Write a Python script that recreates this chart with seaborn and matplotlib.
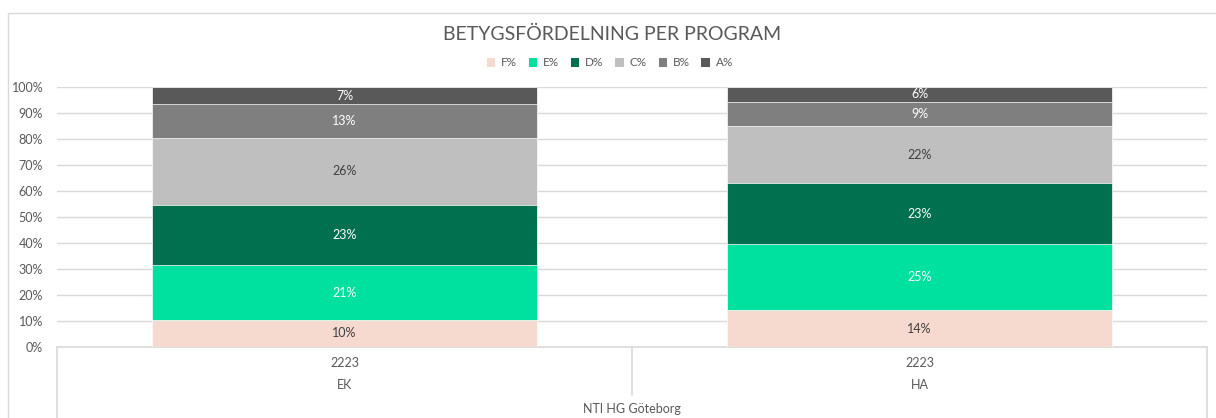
import numpy as np
import pandas as pd
import matplotlib
matplotlib.use("Agg")
import matplotlib.pyplot as plt
from matplotlib.patches import Patch
import seaborn as sns

# Chart data (percent of grades per programme)
programs = ["EK", "HA"]
year = "2223"
school = "NTI HG Göteborg"
grades = ["F%", "E%", "D%", "C%", "B%", "A%"]
F = [10.4, 14.2]
E = [21.1, 25.4]
D = [23.1, 23.3]
C = [25.8, 22.0]
B = [13.0, 9.4]
A = [6.6, 5.7]

colors = ["#F6D9CF", "#00E09E", "#00704F", "#BFBFBF", "#7F7F7F", "#595959"]
label_colors = ["#404040", "white", "white", "#404040", "white", "white"]

df = pd.DataFrame({"program": programs, "F%": F, "E%": E, "D%": D,
                   "C%": C, "B%": B, "A%": A})
cum = df[grades].cumsum(axis=1)

sns.set_style("white")
plt.rcParams["font.family"] = ["Lato", "DejaVu Sans"]
text_col = "#595959"
grid_col = "#D9D9D9"

W, H = 1216, 418
fig = plt.figure(figsize=(W / 100, H / 100), dpi=100)
ax = fig.add_axes([57 / W, (H - 347) / H, (1207 - 57) / W, (347 - 87) / H])

# stacked bars: draw cumulative totals from top layer down
for g, c in reversed(list(zip(grades, colors))):
    sns.barplot(x=df["program"], y=cum[g], color=c, width=0.668, saturation=1,
                edgecolor="white", linewidth=0.5, ax=ax, zorder=3)

# segment labels
for i in range(len(programs)):
    base = 0
    for g, lc in zip(grades, label_colors):
        v = df[g].iloc[i]
        ax.text(i, base + v / 2, f"{round(v):d}%", ha="center", va="center",
                color=lc, fontsize=9, zorder=4)
        base += v

ax.set_ylim(0, 100)
ax.set_xlim(-0.5, 1.5)
ax.set_yticks(np.arange(0, 101, 10))
ax.set_yticklabels([f"{t}%" for t in range(0, 101, 10)])
ax.tick_params(axis="y", length=0, pad=10, labelsize=9, labelcolor=text_col)
ax.set_xticks([])
ax.set_xlabel("")
ax.set_ylabel("")
ax.grid(axis="y", color=grid_col, linewidth=1, zorder=0)
ax.set_axisbelow(True)
for s in ["top", "right", "left"]:
    ax.spines[s].set_visible(False)
ax.spines["bottom"].set_color(grid_col)
ax.spines["bottom"].set_linewidth(1.2)

# multi-level category axis
tr = ax.get_xaxis_transform()
for i, p in enumerate(programs):
    ax.text(i, -0.062, year, transform=tr, ha="center", va="center",
            fontsize=9, color=text_col)
    ax.text(i, -0.146, p, transform=tr, ha="center", va="center",
            fontsize=9, color=text_col)
ax.text(0.5, -0.238, school, transform=tr, ha="center", va="center",
        fontsize=9, color=text_col)
ax.plot([-0.5, -0.5], [0, -0.3], transform=tr, color=grid_col, lw=1.2, clip_on=False)
ax.plot([1.5, 1.5], [0, -0.3], transform=tr, color=grid_col, lw=1.2, clip_on=False)
ax.plot([0.5, 0.5], [0, -0.185], transform=tr, color=grid_col, lw=1.2, clip_on=False)

# title and legend
fig.text(612 / W, 1 - 34 / H, "BETYGSFÖRDELNING PER PROGRAM", ha="center",
         va="center", fontsize=14, color=text_col)
handles = [Patch(facecolor=c, edgecolor="none", label=g) for g, c in zip(grades, colors)]
fig.legend(handles=handles, loc="center", bbox_to_anchor=(610 / W, 1 - 63 / H),
           ncol=6, frameon=False, fontsize=8.5, labelcolor=text_col,
           handlelength=0.7, handleheight=0.7, handletextpad=0.5, columnspacing=1.0)

# chart area border
fig.add_artist(plt.Line2D([8 / W, 8 / W], [0, 1 - 13 / H], color=grid_col, lw=1))
fig.add_artist(plt.Line2D([8 / W, 1], [1 - 13 / H, 1 - 13 / H], color=grid_col, lw=1))

fig.savefig("out.png", dpi=100)
